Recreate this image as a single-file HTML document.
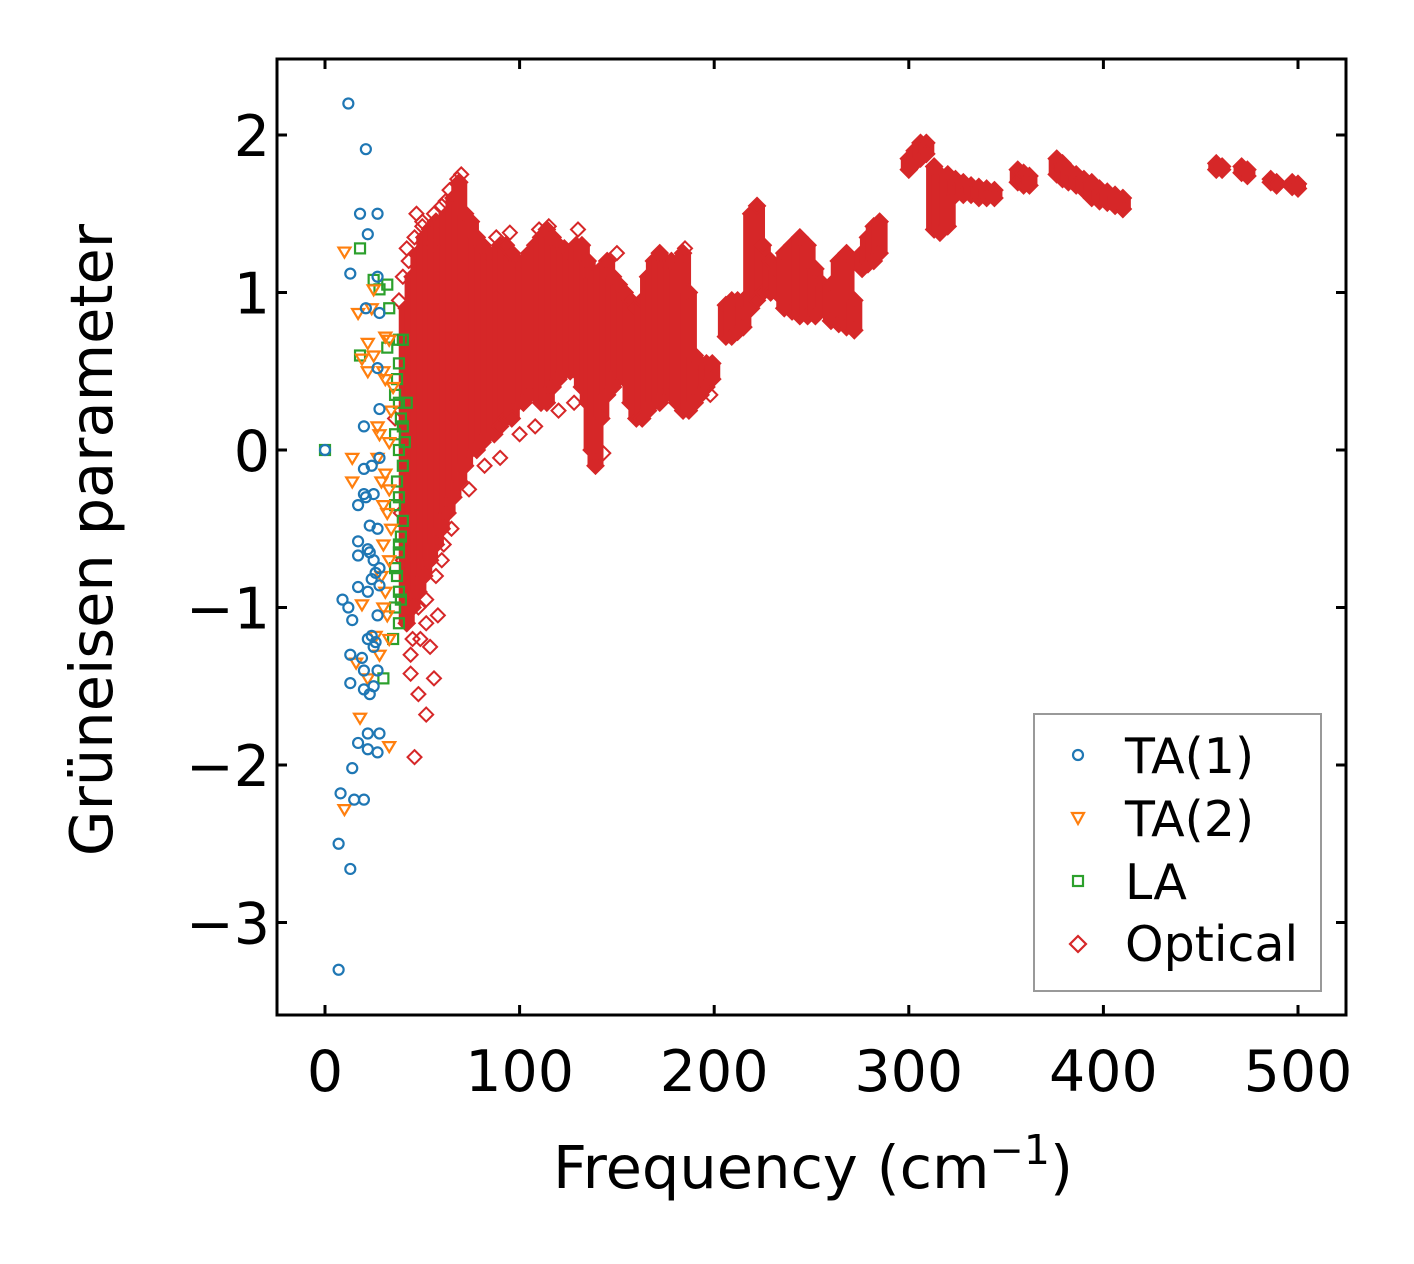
<!DOCTYPE html>
<html><head><meta charset="utf-8"><style>
html,body{margin:0;padding:0;background:#fff;}
svg{display:block;font-family:"DejaVu Sans","Liberation Sans",sans-serif;}
</style></head><body>
<svg id="chart" width="1414" height="1264" viewBox="0 0 1414 1264" xmlns="http://www.w3.org/2000/svg">
<rect x="0" y="0" width="1414" height="1264" fill="#fff"/>
<g id="plot"></g>
<rect x="277" y="59" width="1069" height="956" fill="none" stroke="#000" stroke-width="3"/>
<g id="axes"></g>
<text x="813" y="1188" font-size="59" text-anchor="middle">Frequency (cm<tspan font-size="41" dy="-24">−1</tspan><tspan dy="24">)</tspan></text>
<text transform="translate(112,540) rotate(-90)" font-size="59" text-anchor="middle">Grüneisen parameter</text>
<g>
<rect x="1034" y="714" width="287" height="277" fill="#fff" stroke="#999" stroke-width="2"/>
<circle cx="1078" cy="755" r="5" fill="none" stroke="#1f77b4" stroke-width="2.2"/>
<text x="1125" y="773" font-size="49">TA(1)</text>
<path d="M1072,813 L1084,813 L1078,824 Z" fill="none" stroke="#ff7f0e" stroke-width="2.2"/>
<text x="1125" y="836" font-size="49">TA(2)</text>
<rect x="1073" y="876" width="10" height="10" fill="none" stroke="#2ca02c" stroke-width="2.2"/>
<text x="1125" y="899" font-size="49">LA</text>
<path d="M1078,936 L1086,944 L1078,952 L1070,944 Z" fill="none" stroke="#d62728" stroke-width="2.2"/>
<text x="1125" y="961" font-size="49">Optical</text>
</g>
</svg>
<script>
const xTicks = [0,100,200,300,400,500];
const yTicks = [-3,-2,-1,0,1,2];
const yTickLabels = ["−3","−2","−1","0","1","2"];
const ta1Freq = [12,21,18,27,22,13,27,21,28,27,28,20,0,20,24,28,20,25,17,23,27,17,17,22,25,28,24,17,22,28,9,12,14,27,22,26,13,19,25,20,27,13,20,23,25,22,28,17,22,27,14,8,15,20,7,13,7,21,23,26,24];
const ta1Gamma = [2.2,1.91,1.5,1.5,1.37,1.12,1.1,0.9,0.87,0.52,0.26,0.15,0,-0.12,-0.1,-0.05,-0.28,-0.28,-0.35,-0.48,-0.5,-0.58,-0.67,-0.63,-0.7,-0.75,-0.82,-0.87,-0.9,-0.86,-0.95,-1.0,-1.08,-1.05,-1.2,-1.22,-1.3,-1.32,-1.25,-1.4,-1.4,-1.48,-1.52,-1.55,-1.5,-1.8,-1.8,-1.86,-1.9,-1.92,-2.02,-2.18,-2.22,-2.22,-2.5,-2.66,-3.3,-0.3,-0.65,-0.78,-1.18];
const ta2Freq = [10,25,17,24,31,33,22,25,19,22,30,31,35,27,28,33,14,27,14,29,33,30,34,30,33,29,31,19,32,26,33,28,16,22,18,33,10,32,34,31,30];
const ta2Gamma = [1.26,1.02,0.87,0.9,0.72,0.7,0.68,0.6,0.58,0.5,0.5,0.45,0.4,0.15,0.1,0.05,-0.05,-0.05,-0.2,-0.2,-0.25,-0.35,-0.5,-0.6,-0.7,-0.8,-0.9,-0.98,-1.05,-1.18,-1.2,-1.3,-1.35,-1.45,-1.7,-1.88,-2.28,-0.4,0.25,-0.15,-1.0];
const laFreq = [18,25,32,28,33,18,32,38,40,38,36,38,42,36,38,40,38,40,38,36,38,36,38,35,30,0,37,39,41,37,39,37,39,36,38,40];
const laGamma = [1.28,1.08,1.05,1.02,0.9,0.6,0.65,0.7,0.7,0.55,0.35,0.3,0.3,0.1,0,-0.1,-0.3,-0.45,-0.6,-0.75,-0.9,-1.0,-1.1,-1.2,-1.45,0,0.45,0.2,0.05,-0.2,-0.55,-0.8,-0.95,-0.35,-0.65,0.15];
const optFreq = [42,45,48,51,54,57,60,63,66,69,72,75,78,81,84,87,90,93,96,99,102,105,108,111,114,117,120,123,126,129,132,135,137,139,142,145,148,151,154,157,160,163,166,169,172,175,178,181,184,187,190,193,196,199,206,209,212,215,219,222,225,229,232,236,240,244,248,252,256,260,264,268,272,276,279,282,285,300,303,306,309,313,316,320,324,328,332,336,340,344,356,359,362,376,379,382,386,390,394,398,402,406,410,458,461,471,474,486,489,497,500];
const optLow = [-1.1,-1.0,-0.9,-0.8,-0.7,-0.6,-0.5,-0.4,-0.3,-0.2,-0.1,0.0,0.0,0.05,0.1,0.1,0.15,0.2,0.2,0.3,0.3,0.35,0.35,0.3,0.3,0.4,0.45,0.5,0.5,0.5,0.4,0.3,0.0,-0.1,0.2,0.35,0.4,0.5,0.45,0.3,0.2,0.2,0.25,0.3,0.3,0.35,0.35,0.3,0.25,0.25,0.3,0.35,0.4,0.45,0.72,0.72,0.75,0.78,0.9,0.95,1.0,1.0,1.0,0.9,0.88,0.85,0.85,0.85,0.9,0.82,0.8,0.78,0.76,1.15,1.18,1.2,1.25,1.78,1.82,1.85,1.88,1.4,1.38,1.42,1.62,1.62,1.62,1.6,1.6,1.6,1.7,1.68,1.68,1.75,1.72,1.7,1.68,1.65,1.6,1.58,1.57,1.55,1.53,1.78,1.78,1.76,1.74,1.7,1.68,1.67,1.66];
const optHigh = [0.9,1.1,1.25,1.35,1.4,1.45,1.45,1.5,1.6,1.7,1.5,1.45,1.35,1.3,1.25,1.25,1.3,1.3,1.25,1.2,1.2,1.25,1.3,1.35,1.4,1.35,1.3,1.28,1.25,1.3,1.3,1.2,1.1,1.1,1.15,1.2,1.1,1.05,1.0,0.95,0.9,0.95,1.1,1.2,1.25,1.2,1.2,1.15,1.25,1.0,0.6,0.55,0.55,0.55,0.92,0.95,0.95,0.95,1.5,1.55,1.3,1.2,1.15,1.25,1.3,1.35,1.3,1.15,1.05,1.05,1.2,1.25,0.95,1.25,1.35,1.42,1.45,1.85,1.9,1.95,1.95,1.8,1.75,1.75,1.72,1.7,1.68,1.67,1.66,1.65,1.78,1.76,1.74,1.85,1.82,1.78,1.75,1.72,1.7,1.66,1.64,1.62,1.6,1.82,1.8,1.8,1.78,1.72,1.7,1.7,1.69];
const outFreq = [47,50,55,48,52,46,54,58,44,40,42,62,88,95,110,115,130,150,185,198,143,52,56,44,49,61,70,38,40,43,46,50,56,60,64,68,45,48,52,57,60,65,74,82,90,100,108,120,128,36,39];
const outGamma = [1.5,1.42,1.3,-1.55,-1.68,-1.95,-1.25,-1.05,-1.42,-0.7,1.28,1.58,1.35,1.38,1.4,1.42,1.4,1.25,1.28,0.35,-0.02,-1.1,-1.45,-1.3,-1.2,-0.6,1.75,0.95,1.1,1.2,1.35,1.45,1.5,1.55,1.65,1.72,-1.2,-1.0,-0.95,-0.8,-0.7,-0.5,-0.25,-0.1,-0.05,0.1,0.15,0.25,0.3,0.2,-0.4];

const NS="http://www.w3.org/2000/svg";
const xs=v=>325+v*1.946;
const ys=v=>450-v*157.5;
const plot=document.getElementById('plot');
const axes=document.getElementById('axes');
function mk(tag,attrs,parent){const e=document.createElementNS(NS,tag);for(const k in attrs)e.setAttribute(k,attrs[k]);parent.appendChild(e);return e;}
function diamond(cx,cy,r){return `M${cx},${cy-r} L${cx+r},${cy} L${cx},${cy+r} L${cx-r},${cy} Z`;}
const RED="#d62728";
optFreq.forEach((f,i)=>{
  const x=xs(f), y1=ys(optHigh[i]), y2=ys(optLow[i]);
  const r=mk('rect',{x:x-8,y:y1,width:16,height:Math.max(1,y2-y1),fill:RED},plot);
  
  
  const d1=mk('path',{d:diamond(x,y1,8),fill:RED,stroke:RED,'stroke-width':2},plot);
  
  
  const d2=mk('path',{d:diamond(x,y2,8),fill:RED,stroke:RED,'stroke-width':2},plot);
  
  
});
outFreq.forEach((f,i)=>{
  const d=mk('path',{d:diamond(xs(f),ys(outGamma[i]),7),fill:'none',stroke:RED,'stroke-width':2},plot);
  
  
});
laFreq.forEach((f,i)=>{
  const e=mk('rect',{x:xs(f)-5,y:ys(laGamma[i])-5,width:10,height:10,fill:'none',stroke:'#2ca02c','stroke-width':2.2},plot);
  
  
});
ta2Freq.forEach((f,i)=>{
  const x=xs(f),y=ys(ta2Gamma[i]);
  const e=mk('path',{d:`M${x-6},${y-4} L${x+6},${y-4} L${x},${y+6} Z`,fill:'none',stroke:'#ff7f0e','stroke-width':2.2},plot);
  
  
});
ta1Freq.forEach((f,i)=>{
  const e=mk('circle',{cx:xs(f),cy:ys(ta1Gamma[i]),r:5,fill:'none',stroke:'#1f77b4','stroke-width':2.2},plot);
  
  
});
xTicks.forEach(v=>{
  const x=xs(v);
  const t1=mk('line',{x1:x,x2:x,y1:1015,y2:1005,stroke:'#000','stroke-width':3},axes);
  
  
  const t2=mk('line',{x1:x,x2:x,y1:59,y2:69,stroke:'#000','stroke-width':3},axes);
  
  
  const l=mk('text',{x:x,y:1091,'font-size':57,'text-anchor':'middle'},axes);
  l.textContent=String(v);
  
  
});
yTicks.forEach((v,i)=>{
  const y=ys(v);
  const t1=mk('line',{x1:277,x2:287,y1:y,y2:y,stroke:'#000','stroke-width':3},axes);
  
  
  const t2=mk('line',{x1:1346,x2:1336,y1:y,y2:y,stroke:'#000','stroke-width':3},axes);
  
  
  const l=mk('text',{x:270,y:y+21,'font-size':57,'text-anchor':'end'},axes);
  l.textContent=yTickLabels[i];
  
  
});
</script>
</body></html>
